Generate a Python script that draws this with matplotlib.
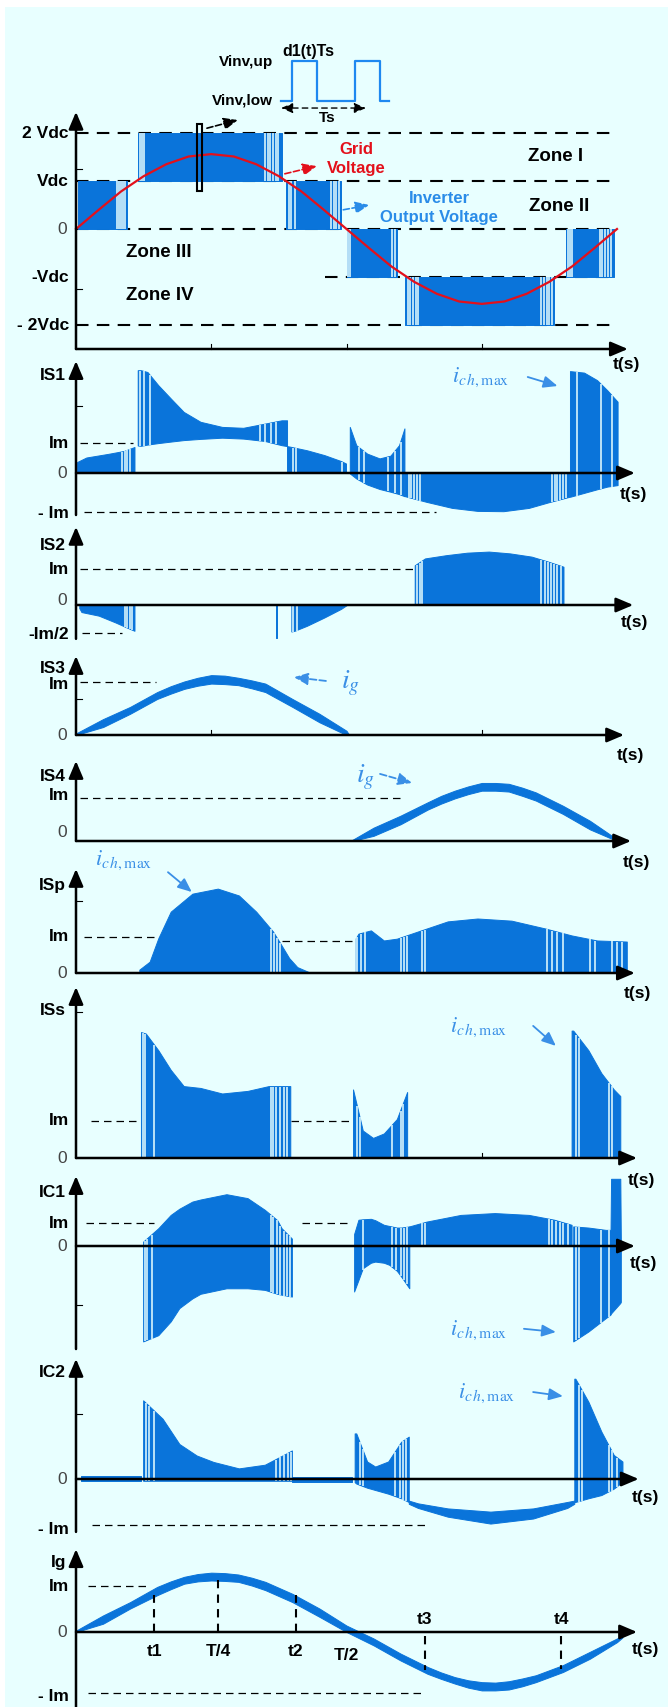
import numpy as np
import matplotlib
matplotlib.use('Agg')
import matplotlib.pyplot as plt
from matplotlib.patches import Rectangle

nan = np.nan

# time in fractions of the grid period T; values in Vdc (top panel) or Im units
V_t = [0.003, 0.094, nan, 0.115, 0.381, nan, 0.389, 0.489, nan, 0.500, 0.594, nan,
       0.609, 0.883, nan, 0.905, 0.995]
V_lo = [0, 0, nan, 1, 1, nan, 0, 0, nan, -1, -1, nan, -2, -2, nan, -1, -1]
V_hi = [1, 1, nan, 2, 2, nan, 1, 1, nan, 0, 0, nan, -1, -1, nan, 0, 0]
V_gaps = [0.075, 0.079, 0.083, 0.087, 0.091, 0.118, 0.122, 0.126, 0.349, 0.354, 0.359,
          0.364, 0.369, 0.374, 0.393, 0.398, 0.404, 0.471, 0.476, 0.481, 0.486, 0.503,
          0.507, 0.585, 0.589, 0.613, 0.618, 0.623, 0.628, 0.633, 0.860, 0.865, 0.870,
          0.875, 0.879, 0.909, 0.913, 0.917, 0.968, 0.973, 0.978, 0.983, 0.988]

GRID_t = [0, 0.042, 0.083, 0.125, 0.167, 0.208, 0.25, 0.292, 0.333, 0.375, 0.417, 0.458,
          0.5, 0.542, 0.583, 0.625, 0.667, 0.708, 0.75, 0.792, 0.833, 0.875, 0.917,
          0.958, 1.0]
GRID_v = [0, 0.40, 0.78, 1.10, 1.35, 1.51, 1.56, 1.51, 1.35, 1.10, 0.78, 0.40, 0,
          -0.40, -0.78, -1.10, -1.35, -1.51, -1.56, -1.51, -1.35, -1.10, -0.78, -0.40, 0]

PULSE_t = [0.379, 0.399, 0.399, 0.445, 0.445, 0.516, 0.516, 0.562, 0.562, 0.579]
PULSE_v = [2.67, 2.67, 3.5, 3.5, 2.67, 2.67, 3.5, 3.5, 2.67, 2.67]

IS1_t = [0.003, 0.02, 0.06, 0.09, 0.109, nan,
         0.115, 0.121, 0.133, 0.153, 0.176, 0.2, 0.231, 0.271, 0.31, 0.35, 0.381, 0.391, nan,
         0.391, 0.397, 0.428, 0.46, 0.491, 0.5, nan,
         0.507, 0.519, 0.539, 0.562, 0.582, 0.598, 0.608, nan,
         0.609, 0.649, 0.696, 0.743, 0.791, 0.838, 0.877, 0.913, nan,
         0.914, 0.94, 0.964, 0.983, 1.002]
IS1_lo = [0, 0, 0, 0, 0, nan,
          0.9, 0.89, 0.93, 0.98, 1.03, 1.08, 1.12, 1.16, 1.13, 1.05, 0.91, 0.88, nan,
          0, 0, 0, 0, 0, 0, nan,
          -0.03, -0.2, -0.4, -0.55, -0.64, -0.72, -0.79, nan,
          -0.79, -0.98, -1.18, -1.28, -1.29, -1.18, -0.98, -0.81, nan,
          -0.81, -0.68, -0.56, -0.47, -0.42]
IS1_hi = [0.35, 0.5, 0.62, 0.72, 0.85, nan,
          3.41, 3.41, 3.35, 2.91, 2.47, 2.02, 1.69, 1.52, 1.49, 1.63, 1.74, 1.74, nan,
          0.88, 0.86, 0.74, 0.58, 0.38, 0.3, nan,
          1.52, 0.91, 0.63, 0.47, 0.56, 0.91, 1.47, nan,
          0, 0, 0, 0, 0, 0, 0, 0, nan,
          3.38, 3.33, 3.08, 2.74, 2.36]
IS1_gaps = [0.085, 0.09, 0.095, 0.1, 0.118, 0.126, 0.137, 0.34, 0.35, 0.36, 0.37, 0.401,
            0.406, 0.492, 0.523, 0.532, 0.576, 0.59, 0.6, 0.615, 0.62, 0.625, 0.63, 0.636,
            0.88, 0.885, 0.89, 0.895, 0.9, 0.905, 0.926, 0.97, 0.99]

IS2_t = [0.007, 0.011, 0.043, 0.074, 0.098, 0.109, nan, 0.369, 0.371, nan,
         0.399, 0.405, 0.428, 0.46, 0.491, 0.503, nan,
         0.627, 0.646, 0.685, 0.724, 0.764, 0.803, 0.843, 0.874, 0.902]
IS2_lo = [-0.1, -0.21, -0.31, -0.5, -0.66, -0.73, nan, -0.92, -0.92, nan,
          -0.75, -0.73, -0.59, -0.36, -0.12, 0, nan,
          0, 0, 0, 0, 0, 0, 0, 0, 0]
IS2_hi = [0, 0, 0, 0, 0, 0, nan, 0, 0, nan,
          0, 0, 0, 0, 0, 0, nan,
          1.09, 1.28, 1.37, 1.44, 1.47, 1.42, 1.33, 1.19, 1.05]
IS2_gaps = [0.09, 0.095, 0.1, 0.104, 0.402, 0.408, 0.63, 0.635, 0.64, 0.86, 0.866, 0.872,
            0.878, 0.884, 0.89, 0.896]

IS3_t = [0, 0.05, 0.1, 0.15, 0.175, 0.2, 0.225, 0.25, 0.275, 0.3, 0.325, 0.35, 0.4, 0.45,
         0.5, 0.505]
IS3_lo = [0, 0.15, 0.40, 0.68, 0.78, 0.87, 0.93, 0.97, 0.96, 0.94, 0.88, 0.81, 0.53, 0.24,
          0, 0]
IS3_hi = [0.03, 0.30, 0.53, 0.81, 0.92, 1.01, 1.08, 1.13, 1.12, 1.08, 1.03, 0.97, 0.68, 0.40,
          0.08, 0]

IS4_t = [0.51, 0.55, 0.6, 0.65, 0.675, 0.7, 0.725, 0.75, 0.775, 0.8, 0.825, 0.85, 0.9, 0.95,
         1.0]
IS4_lo = [0, 0.12, 0.39, 0.73, 0.87, 0.99, 1.09, 1.17, 1.17, 1.15, 1.05, 0.94, 0.63, 0.27, 0]
IS4_hi = [0.02, 0.31, 0.59, 0.9, 1.05, 1.17, 1.27, 1.35, 1.35, 1.33, 1.24, 1.13, 0.82, 0.47,
          0.04]

ISP_t = [0.118, 0.137, 0.153, 0.176, 0.216, 0.263, 0.302, 0.334, 0.365, 0.381, 0.395,
         0.41, 0.43, nan,
         0.518, 0.523, 0.546, 0.57, 0.594, 0.633, 0.688, 0.743, 0.806, 0.869, 0.917,
         0.964, 1.019]
ISP_lo = [0] * 13 + [nan] + [0] * 13
ISP_hi = [0.08, 0.3, 0.95, 1.69, 2.19, 2.33, 2.14, 1.69, 1.14, 0.75, 0.4, 0.15, 0.02, nan,
          0.95, 1.08, 1.17, 0.89, 0.94, 1.14, 1.42, 1.5, 1.44, 1.22, 1.03, 0.89, 0.86]
ISP_gaps = [0.36, 0.366, 0.372, 0.378, 0.52, 0.527, 0.535, 0.6, 0.606, 0.612, 0.64, 0.645,
            0.87, 0.88, 0.89, 0.9, 0.95, 0.96, 0.99, 1.0, 1.01]

ISS_t = [0.121, 0.13, 0.153, 0.176, 0.2, 0.231, 0.271, 0.318, 0.357, 0.397, nan,
         0.513, 0.531, 0.55, 0.57, 0.594, 0.613, nan,
         0.917, 0.92, 0.948, 0.972, 0.995, 1.007]
ISS_lo = [0] * 10 + [nan] + [0] * 6 + [nan] + [0] * 6
ISS_hi = [3.39, 3.35, 2.9, 2.37, 1.93, 1.88, 1.73, 1.8, 1.93, 1.93, nan,
          1.84, 0.73, 0.53, 0.65, 1.04, 1.77, nan,
          3.43, 3.43, 2.9, 2.28, 1.84, 1.66]
ISS_gaps = [0.124, 0.128, 0.145, 0.36, 0.365, 0.37, 0.378, 0.385, 0.39, 0.52, 0.525,
            0.585, 0.6, 0.605, 0.925, 0.93, 0.985, 0.99]

IC1_t = [0.125, 0.153, 0.176, 0.192, 0.216, 0.231, 0.279, 0.318, 0.35, 0.373, 0.381, 0.4, nan,
         0.515, 0.523, 0.531, 0.546, 0.554, 0.57, 0.58, 0.594, 0.602, 0.617, nan,
         0.617, 0.649, 0.712, 0.775, 0.838, 0.885, 0.917, nan,
         0.92, 0.948, 0.98, 0.989, 0.99, 1.007, 1.008]
IC1_lo = [-4.17, -3.9, -3.3, -2.72, -2.3, -2.1, -1.86, -1.86, -1.93, -2.1, -2.14, -2.22, nan,
          -2.0, -1.5, -0.99, -0.75, -0.7, -0.75, -0.84, -1.1, -1.35, -1.86, nan,
          0, 0, 0, 0, 0, 0, 0, nan,
          -4.17, -3.74, -3.16, -3.0, -2.95, -2.5, -2.45]
IC1_hi = [0.17, 0.75, 1.33, 1.6, 1.91, 2.0, 2.23, 2.06, 1.55, 1.1, 0.75, 0.3, nan,
          0.5, 1.12, 1.14, 1.16, 1.1, 0.9, 0.85, 0.78, 0.78, 0.83, nan,
          0.83, 1.04, 1.33, 1.41, 1.33, 1.12, 0.9, nan,
          0.83, 0.78, 0.68, 0.68, 2.9, 2.9, 0.3]
IC1_gaps = [0.128, 0.132, 0.14, 0.36, 0.365, 0.372, 0.378, 0.385, 0.39, 0.395, 0.53,
            0.585, 0.592, 0.6, 0.606, 0.611, 0.64, 0.645, 0.875, 0.88, 0.887, 0.895,
            0.9, 0.91, 0.925, 0.93, 0.97, 0.985]

IC2_t = [0.01, 0.12, nan,
         0.125, 0.161, 0.192, 0.224, 0.255, 0.302, 0.35, 0.389, 0.4, nan,
         0.4, 0.51, nan,
         0.516, 0.519, 0.539, 0.554, 0.578, 0.602, 0.616, nan,
         0.616, 0.633, 0.688, 0.767, 0.846, 0.909, 0.922, nan,
         0.922, 0.924, 0.948, 0.972, 0.995, 1.011]
IC2_lo = [-0.05, -0.05, nan,
          -0.05, -0.05, -0.05, -0.05, -0.05, -0.05, -0.05, -0.05, -0.05, nan,
          -0.06, -0.06, nan,
          -0.08, -0.11, -0.2, -0.25, -0.33, -0.43, -0.51, nan,
          -0.55, -0.64, -0.83, -0.98, -0.87, -0.64, -0.55, nan,
          -0.51, -0.51, -0.43, -0.36, -0.22, -0.07]
IC2_hi = [0.06, 0.06, nan,
          1.7, 1.3, 0.75, 0.5, 0.36, 0.22, 0.3, 0.54, 0.61, nan,
          0.04, 0.04, nan,
          0.98, 0.98, 0.37, 0.26, 0.37, 0.8, 0.91, nan,
          -0.48, -0.54, -0.65, -0.72, -0.65, -0.51, -0.48, nan,
          2.17, 2.17, 1.67, 1.02, 0.51, 0.37]
IC2_gaps = [0.13, 0.135, 0.145, 0.37, 0.378, 0.385, 0.392, 0.397, 0.525, 0.53, 0.59,
            0.598, 0.605, 0.61, 0.93, 0.935, 0.985, 0.99, 1.0]

IG_t = [0, 0.05, 0.1, 0.15, 0.175, 0.2, 0.225, 0.25, 0.275, 0.3, 0.325, 0.35, 0.4, 0.45,
        0.5, 0.55, 0.6, 0.65, 0.675, 0.7, 0.725, 0.75, 0.775, 0.8, 0.825, 0.85, 0.9, 0.95,
        1.0, 1.01]
IG_lo = [0, 0.18, 0.51, 0.8, 0.93, 1.05, 1.1, 1.12, 1.11, 1.09, 1.01, 0.91, 0.65, 0.33,
         0, -0.29, -0.62, -0.91, -1.02, -1.12, -1.21, -1.27, -1.27, -1.25, -1.18, -1.09,
         -0.87, -0.58, -0.22, -0.12]
IG_hi = [0.03, 0.36, 0.65, 0.98, 1.1, 1.2, 1.26, 1.29, 1.28, 1.25, 1.18, 1.09, 0.83, 0.51,
         0.14, -0.14, -0.47, -0.76, -0.88, -0.98, -1.05, -1.09, -1.1, -1.07, -1.01, -0.94,
         -0.72, -0.43, -0.14, -0.08]
IG_mark_t = [0.145, 0.263, 0.406, 0.645, 0.897]
IG_mark_v = [0.8, 1.12, 0.8, -0.83, -0.8]
IG_mark_lab = ['t1', 'T/4', 't2', 't3', 't4']

BLUE = '#0a74da'
LBLUE = '#3a8fe6'
BG = '#e8ffff'
RED = '#e3101b'
W, H = 668, 1708
X0, XT = 76, 541   # pixel column of t=0 and pixels per period

plt.rcParams['font.family'] = ['Liberation Sans', 'DejaVu Sans']
plt.rcParams['mathtext.fontset'] = 'stix'
BOLD = dict(fontsize=12.5, fontweight='bold', color='k')
SMALL = dict(fontsize=11, fontweight='bold', color='k')
AXARROW = dict(arrowstyle='-|>,head_length=0.8,head_width=0.34', color='k', lw=1.8,
               shrinkA=0, shrinkB=0, mutation_scale=13)


def tx(px):
    return (px - X0) / XT


fig = plt.figure(figsize=(W / 100, H / 100), dpi=100)
fig.add_artist(Rectangle((5 / W, 0), 1, 1 - 8 / H, transform=fig.transFigure,
                         facecolor=BG, edgecolor='none', zorder=-5))


def setup(y0, u, ybot, ytop, xend, name, name_v, tlab, ylabels, xaxis=0.0, yt=(), xt=()):
    ax = fig.add_axes([0, 0, 1, 1])
    ax.set_xlim(tx(0), tx(W))
    ax.set_ylim((y0 - H) / u, y0 / u)
    ax.axis('off')
    ax.annotate('', xy=(xend, xaxis), xytext=(0, xaxis), arrowprops=AXARROW, zorder=5)
    ax.annotate('', xy=(0, ytop), xytext=(0, ybot), arrowprops=AXARROW, zorder=5)
    if name:
        ax.text(tx(66), name_v, name, ha='right', va='center', **BOLD)
    ax.text(tx(tlab[0]), tlab[1], 't(s)', ha='center', va='center', **BOLD)
    for v, s in ylabels:
        if s == '0':
            ax.text(tx(67), v, s, ha='right', va='center', fontsize=12.5, color='#444')
        else:
            ax.text(tx(69), v, s, ha='right', va='center', **BOLD)
    for v in yt:
        ax.plot([0, tx(82)], [v, v], color='k', lw=0.8, zorder=5)
    for t in xt:
        ax.plot([t, t], [xaxis, xaxis + 5 / u], color='k', lw=0.8, zorder=5)
    return ax


def draw_env(ax, t, lo, hi, gaps=(), color=BLUE):
    t, lo, hi = (np.asarray(a, float) for a in (t, lo, hi))
    ax.fill_between(t, lo, hi, facecolor=color, edgecolor=color, lw=0.7, zorder=2)
    parts = np.split(np.arange(len(t)), np.flatnonzero(np.isnan(t)))
    for g in gaps:
        for idx in parts:
            idx = idx[~np.isnan(t[idx])]
            if len(idx) > 1 and t[idx[0]] < g < t[idx[-1]]:
                a = np.interp(g, t[idx], lo[idx])
                b = np.interp(g, t[idx], hi[idx])
                ax.vlines(g, a, b, color=BG, lw=1.1, zorder=2.5)
                break


def ref(ax, v, t0, t1, lw=0.9):
    ax.plot([t0, t1], [v, v], color='k', lw=lw, ls=(0, (6, 4)), zorder=1)


def ich(ax, x, v, a0, a1, dashed=False, label=r'$i_{c\,h,\mathrm{max}}$', size=16):
    ax.text(x, v, label, color=LBLUE, fontsize=size, ha='left', va='center')
    ax.annotate('', xy=a1, xytext=a0,
                arrowprops=dict(arrowstyle='-|>,head_length=0.7,head_width=0.3', color=LBLUE,
                                lw=1.3, ls='--' if dashed else '-', shrinkA=0, shrinkB=0,
                                mutation_scale=12))


# ---------------- panel 1: voltages ----------------
ax = setup(230, 48, -2.5, 2.44, 1.02, None, 0, (626, -2.8),
           [(2, '2 Vdc'), (1, 'Vdc'), (0, '0'), (-1, '-Vdc'), (-2, '- 2Vdc')],
           xaxis=-2.5, yt=[1.25, -1.25], xt=[0.25, 0.5, 0.75])
for v, t0, t1 in [(2, 0, 0.991), (1, 0, 0.999), (0, 0, 0.996), (-1, 0.46, 0.999), (-2, 0, 0.999)]:
    ref(ax, v, t0, t1, lw=1.5)
draw_env(ax, V_t, V_lo, V_hi, V_gaps)
ax.plot(GRID_t, GRID_v, color=RED, lw=1.6, zorder=3)
ax.plot(PULSE_t, PULSE_v, color='#1e88f0', lw=1.6, zorder=3)
ax.annotate('', xy=(0.536, 2.52), xytext=(0.379, 2.52),
            arrowprops=dict(arrowstyle='<|-|>,head_length=0.7,head_width=0.3', color='k',
                            lw=1.0, ls=(0, (4, 3)), shrinkA=0, shrinkB=0, mutation_scale=10))
ax.text(0.464, 2.33, 'Ts', ha='center', va='center', **SMALL)
ax.text(0.429, 3.71, 'd1(t)Ts', ha='center', va='center', fontsize=11.5, fontweight='bold')
ax.text(0.364, 3.5, 'Vinv,up', ha='right', va='center', **SMALL)
ax.text(0.364, 2.69, 'Vinv,low', ha='right', va='center', **SMALL)
ax.add_patch(Rectangle((0.224, 0.79), 0.009, 1.4, facecolor='none', edgecolor='k', lw=1.5, zorder=4))
ax.annotate('', xy=(0.299, 2.27), xytext=(0.242, 2.1),
            arrowprops=dict(arrowstyle='-|>,head_length=0.7,head_width=0.3', color='k', lw=1.2,
                            ls='--', shrinkA=0, shrinkB=0, mutation_scale=12))
ax.text(0.518, 1.67, 'Grid', ha='center', va='center', color=RED, fontsize=12, fontweight='bold')
ax.text(0.518, 1.29, 'Voltage', ha='center', va='center', color=RED, fontsize=12, fontweight='bold')
ax.annotate('', xy=(0.445, 1.31), xytext=(0.386, 1.15),
            arrowprops=dict(arrowstyle='-|>,head_length=0.7,head_width=0.3', color=RED, lw=1.2,
                            ls='--', shrinkA=0, shrinkB=0, mutation_scale=12))
ax.text(0.671, 0.65, 'Inverter', ha='center', va='center', color='#2a8ce8', fontsize=12, fontweight='bold')
ax.text(0.671, 0.27, 'Output Voltage', ha='center', va='center', color='#2a8ce8', fontsize=12,
        fontweight='bold')
ax.annotate('', xy=(0.542, 0.5), xytext=(0.494, 0.4),
            arrowprops=dict(arrowstyle='-|>,head_length=0.7,head_width=0.3', color='#2a8ce8', lw=1.2,
                            ls='--', shrinkA=0, shrinkB=0, mutation_scale=12))
for x, v, s in [(0.887, 1.54, 'Zone I'), (0.893, 0.48, 'Zone II'),
                (0.153, -0.46, 'Zone III'), (0.155, -1.375, 'Zone IV')]:
    ax.text(x, v, s, ha='center', va='center', fontsize=13.5, fontweight='bold')

# ---------------- IS1 ----------------
ax = setup(474, 30, -1.4, 3.73, 1.033, 'IS1', 3.27, (633, -0.67),
           [(1, 'Im'), (0, '0'), (-1.3, '- Im')], yt=[2.23])
ref(ax, 1, 0.007, 0.105)
ref(ax, -1.3, 0.015, 0.665)
draw_env(ax, IS1_t, IS1_lo, IS1_hi, IS1_gaps)
ich(ax, tx(452), 3.23, (0.835, 3.2), (0.89, 2.9))

# ---------------- IS2 ----------------
ax = setup(606, 36, -0.94, 2.17, 1.03, 'IS2', 1.69, (634, -0.47),
           [(1, 'Im'), (0.14, '0'), (-0.78, '-Im/2')])
ref(ax, 1, 0.007, 0.625)
ref(ax, -0.78, 0.011, 0.085)
draw_env(ax, IS2_t, IS2_lo, IS2_hi, IS2_gaps)

# ---------------- IS3 ----------------
ax = setup(736, 53, 0, 1.49, 1.013, 'IS3', 1.28, (630, -0.36),
           [(0.98, 'Im'), (0, '0')], yt=[0.68], xt=[0.25, 0.75])
ref(ax, 1, 0.007, 0.148)
draw_env(ax, IS3_t, IS3_lo, IS3_hi)
ich(ax, tx(341), 1.0, (0.462, 1.02), (0.403, 1.09), dashed=True, label=r'$i_g$', size=20)

# ---------------- IS4 ----------------
ax = setup(842, 43, 0, 1.86, 1.026, 'IS4', 1.53, (636, -0.47),
           [(1.07, 'Im'), (0.21, '0')])
ref(ax, 1, 0.007, 0.605)
draw_env(ax, IS4_t, IS4_lo, IS4_hi)
ich(ax, tx(356), 1.51, (0.562, 1.56), (0.621, 1.35), dashed=True, label=r'$i_g$', size=20)

# ---------------- ISp ----------------
ax = setup(974, 36, 0, 2.89, 1.033, 'ISp', 2.47, (637, -0.53),
           [(1.03, 'Im'), (0, '0')], yt=[2.0])
ref(ax, 1, 0.015, 0.148)
ref(ax, 0.9, 0.381, 0.519)
draw_env(ax, ISP_t, ISP_lo, ISP_hi, ISP_gaps)
ich(ax, tx(95), 3.17, (0.17, 2.8), (0.214, 2.25))

# ---------------- ISs ----------------
ax = setup(1159, 37, 0, 4.62, 1.037, 'ISs', 4.0, (641, -0.57),
           [(1.03, 'Im'), (0, '0')], yt=[3.95], xt=[0.75])
ref(ax, 1, 0.027, 0.113)
ref(ax, 1, 0.397, 0.507)
draw_env(ax, ISS_t, ISS_lo, ISS_hi, ISS_gaps)
ich(ax, tx(450), 3.57, (0.845, 3.57), (0.887, 3.03))

# ---------------- IC1 ----------------
ax = setup(1247, 23, -4.48, 3.04, 1.033, 'IC1', 2.39, (643, -0.7),
           [(1.04, 'Im'), (0, '0')], yt=[-2.57])
ref(ax, 1, 0.019, 0.145)
ref(ax, 1, 0.417, 0.511)
draw_env(ax, IC1_t, IC1_lo, IC1_hi, IC1_gaps)
ich(ax, tx(450), -3.6, (0.828, -3.6), (0.887, -3.74))

# ---------------- IC2 ----------------
ax = setup(1480, 46, -1.15, 2.61, 1.04, 'IC2', 2.33, (645, -0.37),
           [(0, '0'), (-1.07, '- Im')], yt=[1.41])
ref(ax, -1, 0.03, 0.649)
draw_env(ax, IC2_t, IC2_lo, IC2_hi, IC2_gaps)
ich(ax, tx(458), 1.89, (0.845, 1.89), (0.9, 1.8))

# ---------------- Ig ----------------
ax = setup(1633, 46, -1.63, 1.8, 1.037, 'Ig', 1.54, (645, -0.35),
           [(1, 'Im'), (0, '0'), (-1.39, '- Im')])
ref(ax, 1, 0.023, 0.133)
ref(ax, -1.33, 0.023, 0.637)
draw_env(ax, IG_t, IG_lo, IG_hi)
for t, v, s in zip(IG_mark_t, IG_mark_v, IG_mark_lab):
    start = 0 if v > 0 else -0.08
    ax.plot([t, t], [start, v], color='k', lw=1.5, ls=(0, (4, 3)), zorder=4)
    ax.text(t, -0.41 if v > 0 else 0.3, s, ha='center', va='center', **BOLD)
ax.text(0.5, -0.48, 'T/2', ha='center', va='center', **BOLD)

fig.savefig('out.png', dpi=100)
